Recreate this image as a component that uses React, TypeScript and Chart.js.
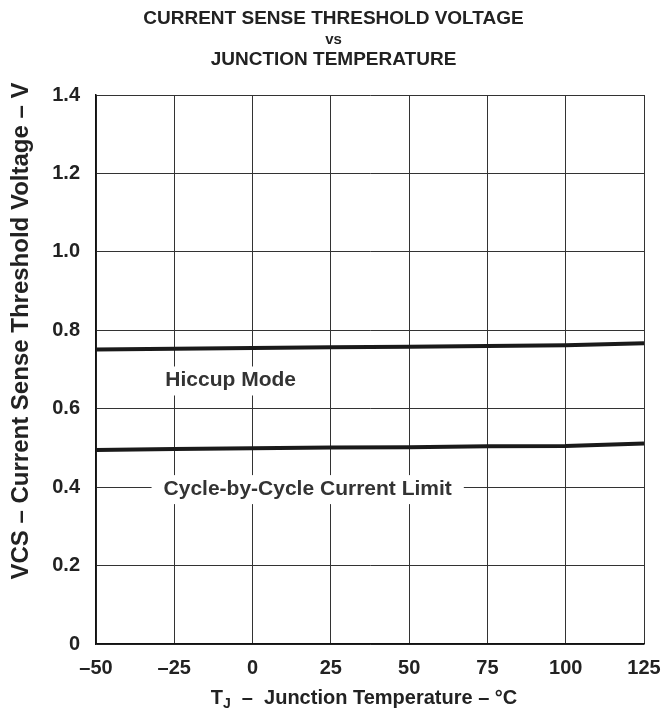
import React, { useEffect, useRef } from "react";
import { Chart, registerables } from "chart.js";

Chart.register(...registerables);

const temperatures = [-50, -25, 0, 25, 50, 75, 100, 125];
const hiccupMode = [0.751, 0.753, 0.755, 0.757, 0.758, 0.76, 0.762, 0.767];
const cycleLimit = [0.495, 0.497, 0.499, 0.501, 0.502, 0.504, 0.505, 0.511];
const titleLines = ["CURRENT SENSE THRESHOLD VOLTAGE", "vs", "JUNCTION TEMPERATURE"];
const xAxisTitleParts = ["T", "J", "  –  Junction Temperature – °C"];
const yAxisTitle = "VCS – Current Sense Threshold Voltage – V";
const annotationTexts = ["Hiccup Mode", "Cycle-by-Cycle Current Limit"];
const annotationX = [-7, 17.6];
const annotationY = [0.672, 0.395];

const FONT = "'Liberation Sans', Arial, Helvetica, sans-serif";
const INK = "#222";

const overlayPlugin = {
  id: "overlay",
  afterDraw(chart: any) {
    const ctx = chart.ctx;
    const xs = chart.scales.x;
    const ys = chart.scales.y;
    ctx.save();
    // titles
    ctx.fillStyle = INK;
    ctx.textAlign = "center";
    ctx.textBaseline = "middle";
    const cx = chart.width / 2;
    const titleY = [19, 40, 60];
    const titleSize = [19, 15, 19];
    titleLines.forEach((t, i) => {
      ctx.font = `bold ${titleSize[i]}px ${FONT}`;
      ctx.fillText(t, cx, titleY[i]);
    });

    // y axis title (rotated)
    ctx.save();
    ctx.translate(21, 331);
    ctx.rotate(-Math.PI / 2);
    ctx.font = `bold 24px ${FONT}`;
    ctx.textAlign = "center";
    ctx.textBaseline = "middle";
    ctx.fillStyle = INK;
    ctx.fillText(yAxisTitle, 0, 0);
    ctx.restore();

    // x axis title with subscript J
    ctx.textAlign = "left";
    ctx.textBaseline = "alphabetic";
    const big = `bold 20px ${FONT}`;
    const small = `bold 14px ${FONT}`;
    ctx.font = big;
    const w0 = ctx.measureText(xAxisTitleParts[0]).width;
    const w2 = ctx.measureText(xAxisTitleParts[2]).width;
    ctx.font = small;
    const w1 = ctx.measureText(xAxisTitleParts[1]).width;
    const total = w0 + w1 + w2;
    const xCenter = (xs.left + xs.right) / 2 - 6;
    let x0 = xCenter - total / 2;
    const base = 704;
    ctx.font = big;
    ctx.fillText(xAxisTitleParts[0], x0, base);
    ctx.font = small;
    ctx.fillText(xAxisTitleParts[1], x0 + w0, base + 4);
    ctx.font = big;
    ctx.fillText(xAxisTitleParts[2], x0 + w0 + w1, base);

    // annotations
    ctx.textAlign = "center";
    ctx.textBaseline = "middle";
    ctx.font = `bold 21px ${FONT}`;
    annotationTexts.forEach((t, i) => {
      const px = xs.getPixelForValue(annotationX[i]);
      const py = ys.getPixelForValue(annotationY[i]);
      const w = ctx.measureText(t).width;
      ctx.fillStyle = "#fff";
      ctx.fillRect(px - w / 2 - 12, py - 14, w + 24, 29);
      ctx.fillStyle = "#333";
      ctx.fillText(t, px, py);
    });
    ctx.restore();
  },
};

export default function App() {
  const ref = useRef<HTMLCanvasElement>(null);
  useEffect(() => {
    if (!ref.current) return;
    const chart = new Chart(ref.current, {
      type: "line",
      data: {
        datasets: [
          {
            label: "Hiccup Mode",
            data: temperatures.map((t, i) => ({ x: t, y: hiccupMode[i] })),
            borderColor: "#1a1a1a",
            borderWidth: 4,
            pointRadius: 0,
            tension: 0,
          },
          {
            label: "Cycle-by-Cycle Current Limit",
            data: temperatures.map((t, i) => ({ x: t, y: cycleLimit[i] })),
            borderColor: "#1a1a1a",
            borderWidth: 4,
            pointRadius: 0,
            tension: 0,
          },
        ],
      },
      options: {
        animation: false,
        responsive: false,
        maintainAspectRatio: false,
        layout: { padding: { top: 95, right: 23, left: 0, bottom: 0 } },
        plugins: { legend: { display: false }, tooltip: { enabled: false }, title: { display: false } },
        scales: {
          x: {
            type: "linear",
            min: -50,
            max: 125,
            afterFit: (s: any) => {
              s.height = 64;
              s.paddingLeft = 0;
              s.paddingRight = 0;
            },
            ticks: {
              stepSize: 25,
              padding: 12,
              color: INK,
              font: { family: FONT, size: 20, weight: "bold" },
              callback: (v: any) => (Number(v) < 0 ? "–" + Math.abs(Number(v)) : String(v)),
              maxRotation: 0,
            },
            grid: { color: "#333", lineWidth: 1, drawTicks: false },
            border: { display: true, color: "#111", width: 1.5 },
            title: { display: false },
          },
          y: {
            type: "linear",
            min: 0,
            max: 1.4,
            afterFit: (s: any) => {
              s.width = 96;
            },
            ticks: {
              stepSize: 0.2,
              padding: 16,
              color: INK,
              font: { family: FONT, size: 20, weight: "bold" },
              callback: (v: any) => (Number(v) === 0 ? "0" : Number(v).toFixed(1)),
            },
            grid: { color: "#333", lineWidth: 1, drawTicks: false },
            border: { display: true, color: "#111", width: 1.5 },
            title: { display: false },
          },
        },
      },
      plugins: [overlayPlugin],
    });
    return () => chart.destroy();
  }, []);
  return (
    <div style={{ position: "fixed", left: 0, top: 0, width: 667, height: 708, background: "#fff" }}>
      <canvas ref={ref} width={667} height={708} style={{ display: "block", width: 667, height: 708 }} />
    </div>
  );
}
